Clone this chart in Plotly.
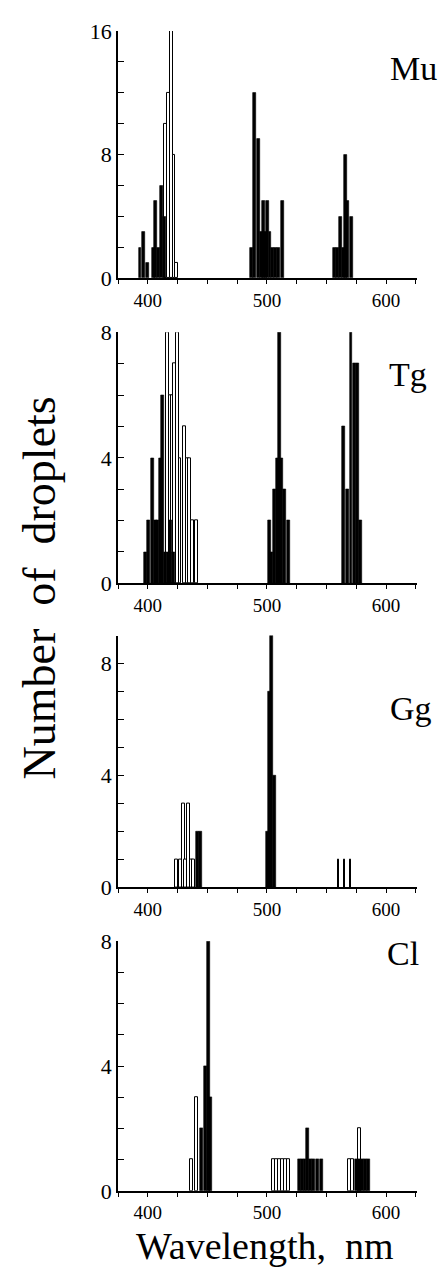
import plotly.graph_objects as go

# ---------------- data (wavelength in nm, number of droplets) ----------------
mu_open_wl = [415.0, 417.3, 419.6, 422.0, 424.0]
mu_open_n = [10, 12, 16, 8, 1]
mu_black_wl = [393.5, 396.2, 399.5, 404.5, 406.8, 409.0, 411.2, 413.8,
               487.0, 489.4, 492.8, 495.2, 497.3, 499.0, 500.5, 502.6,
               505.0, 507.5, 510.0, 513.3,
               557.0, 559.5, 561.6, 564.0, 566.0, 568.0, 570.8]
mu_black_n = [2, 3, 1, 2, 5, 2, 6, 4,
              2, 12, 9, 3, 5, 3, 5, 3,
              2, 2, 2, 5,
              2, 2, 4, 2, 8, 5, 4]

tg_open_wl = [416.5, 419.0, 420.8, 422.5, 424.6, 427.0, 430.5, 433.0, 435.2, 437.6, 440.6]
tg_open_n = [8, 6, 6, 7, 8, 4, 5, 4, 4, 2, 2]
tg_black_wl = [398.0, 400.4, 404.0, 406.5, 408.5, 411.0, 412.5, 414.6, 417.0, 419.4, 421.8,
               502.0, 504.0, 506.3, 508.8, 510.7, 512.6, 514.9, 517.8,
               564.6, 567.6, 570.6, 573.4, 576.2, 578.6]
tg_black_n = [1, 2, 4, 2, 2, 4, 6, 1, 1, 2, 1,
              2, 1, 3, 4, 8, 4, 3, 2,
              5, 3, 8, 7, 7, 2]

gg_open_wl = [423.8, 427.4, 429.9, 432.0, 434.0, 436.4, 438.6]
gg_open_n = [1, 1, 3, 1, 3, 1, 1]
gg_thin_wl = [560.0, 565.0, 570.0]
gg_thin_n = [1, 1, 1]
gg_black_wl = [441.6, 444.6, 500.3, 502.2, 504.1, 506.1]
gg_black_n = [2, 2, 2, 7, 9, 4]

cl_open_wl = [437.0, 441.0, 505.4, 507.9, 510.4, 512.9, 515.4, 517.9, 569.6, 572.1, 577.4]
cl_open_n = [1, 3, 1, 1, 1, 1, 1, 1, 1, 1, 2]
cl_black_wl = [445.0, 448.1, 450.9, 453.0,
               527.2, 529.6, 532.0, 534.2, 536.6, 539.0, 542.6, 545.5,
               575.0, 577.6, 580.2, 582.8, 585.3]
cl_black_n = [2, 4, 8, 3,
              1, 1, 1, 2, 1, 1, 1, 1,
              1, 1, 1, 1, 1]

panel_names = ["Mu", "Tg", "Gg", "Cl"]
y_max = [16, 8, 9, 8]
y_tickvals = [[0, 8, 16], [0, 4, 8], [0, 4, 8], [0, 4, 8]]
y_minor = [2, 1, 1, 1]
x_tickvals = [400, 500, 600]

# ---------------- layout geometry ----------------
W, H = 438, 1281
L, R = 118, 21
PW = W - L - R


def px2x(px):
    return (px - L) / PW


def py2y(py):
    return 1 - py / H


panel_px = [(19.3, 271.7), (326.7, 582.7), (636.0, 892.7), (947.7, 1202.3)]
label_px = [(388, 58.0), (387, 370.0), (388, 710.0), (385, 960.0)]

FONT = "Liberation Serif"

fig = go.Figure()

open_style = dict(color="white", line=dict(color="black", width=1))
black_style = dict(color="black", line=dict(color="black", width=0.6))

series = [
    (mu_open_wl, mu_open_n, mu_black_wl, mu_black_n, None),
    (tg_open_wl, tg_open_n, tg_black_wl, tg_black_n, None),
    (gg_open_wl, gg_open_n, gg_black_wl, gg_black_n, (gg_thin_wl, gg_thin_n)),
    (cl_open_wl, cl_open_n, cl_black_wl, cl_black_n, None),
]

for i, (ow, on, bw, bn, thin) in enumerate(series):
    xa = "x" if i == 0 else f"x{i+1}"
    ya = "y" if i == 0 else f"y{i+1}"
    fig.add_trace(go.Bar(x=ow, y=on, width=2.4, marker=open_style,
                         xaxis=xa, yaxis=ya, showlegend=False))
    if thin is not None:
        fig.add_trace(go.Bar(x=thin[0], y=thin[1], width=1.3, marker=open_style,
                             xaxis=xa, yaxis=ya, showlegend=False))
    fig.add_trace(go.Bar(x=bw, y=bn, width=2.4, marker=black_style,
                         xaxis=xa, yaxis=ya, showlegend=False))

layout = dict(
    width=W, height=H,
    margin=dict(l=L, r=R, t=0, b=0),
    paper_bgcolor="white", plot_bgcolor="white",
    barmode="overlay", bargap=0,
    font=dict(family=FONT, color="black"),
)

for i in range(4):
    top, bot = panel_px[i]
    xk = "xaxis" if i == 0 else f"xaxis{i+1}"
    yk = "yaxis" if i == 0 else f"yaxis{i+1}"
    ya = "y" if i == 0 else f"y{i+1}"
    xa = "x" if i == 0 else f"x{i+1}"
    layout[xk] = dict(
        domain=[0, 1], anchor=ya, range=[375, 626],
        tickvals=x_tickvals, ticktext=[str(v) for v in x_tickvals],
        ticks="outside", ticklen=4, tickwidth=1.2, tickcolor="black",
        minor=dict(tick0=375, dtick=25, ticks="outside", ticklen=4,
                   tickwidth=1.2, tickcolor="black"),
        showline=True, linecolor="black", linewidth=1.6,
        showgrid=False, zeroline=False,
        tickfont=dict(family=FONT, size=19, color="black"),
    )
    layout[yk] = dict(
        domain=[py2y(bot), py2y(top)], anchor=xa, range=[0, y_max[i]],
        tickvals=y_tickvals[i], ticktext=[str(v) for v in y_tickvals[i]],
        ticks="inside", ticklen=6, tickwidth=1.2, tickcolor="black",
        minor=dict(dtick=y_minor[i], ticks="inside", ticklen=6,
                   tickwidth=1.2, tickcolor="black"),
        showline=True, linecolor="black", linewidth=1.6,
        showgrid=False, zeroline=False,
        tickfont=dict(family=FONT, size=22, color="black"),
    )

annotations = []
for i, name in enumerate(panel_names):
    lx, ly = label_px[i]
    annotations.append(dict(
        text=name, xref="paper", yref="paper",
        x=px2x(lx), y=py2y(ly), xanchor="left", yanchor="middle",
        showarrow=False, font=dict(family=FONT, size=34, color="black"),
    ))

annotations.append(dict(
    text="Number  of  droplets", xref="paper", yref="paper",
    x=px2x(40), y=py2y(588), xanchor="center", yanchor="middle",
    textangle=-90, showarrow=False,
    font=dict(family=FONT, size=46, color="black"),
))
annotations.append(dict(
    text="Wavelength,  nm", xref="paper", yref="paper",
    x=px2x(265), y=py2y(1281), xanchor="center", yanchor="bottom",
    showarrow=False, borderpad=0,
    font=dict(family=FONT, size=38, color="black"),
))
layout["annotations"] = annotations

fig.update_layout(**layout)
fig.write_html("out.html")
